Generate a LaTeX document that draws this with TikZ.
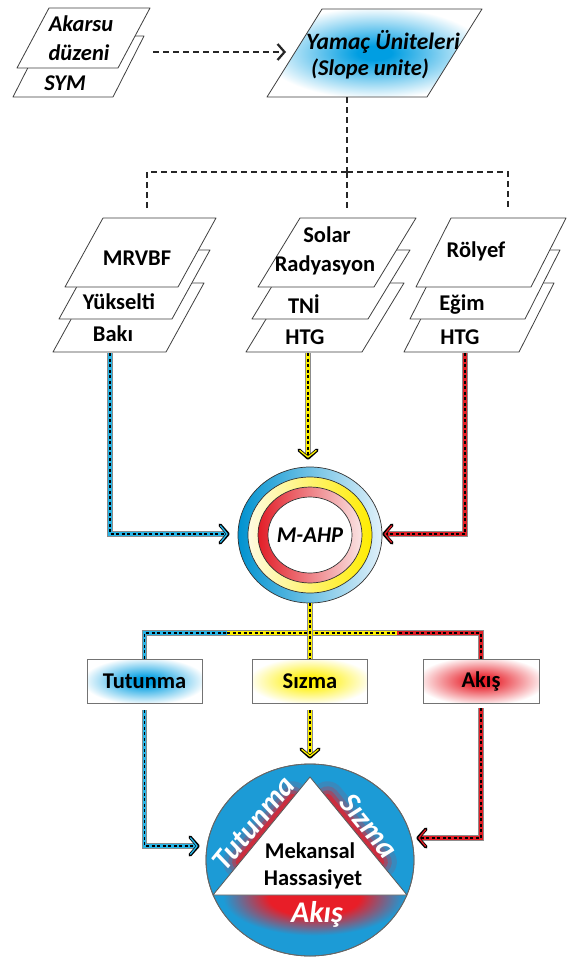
\documentclass[tikz,border=0pt]{standalone}
\usepackage{fontspec}
\setmainfont{Carlito}
\usetikzlibrary{arrows.meta,calc}
\definecolor{cBlue}{RGB}{28,155,214}
\definecolor{lnBlue}{RGB}{40,182,232}
\definecolor{lnYel}{RGB}{255,242,0}
\definecolor{lnRed}{RGB}{228,30,38}
\definecolor{gBlue}{RGB}{0,158,226}
\definecolor{gYel}{RGB}{255,240,0}
\definecolor{gRed}{RGB}{232,30,40}
\definecolor{ringBa}{RGB}{0,146,208}
\definecolor{ringBb}{RGB}{225,241,250}
\definecolor{ringYa}{RGB}{255,251,225}
\definecolor{ringYb}{RGB}{255,236,0}
\definecolor{ringRa}{RGB}{226,30,40}
\definecolor{ringRb}{RGB}{250,228,228}
\pgfdeclareradialshading{glowYam}{\pgfpoint{0bp}{0bp}}{color(0bp)=(gBlue); color(4bp)=(gBlue); color(26bp)=(white); color(50bp)=(white)}
\pgfdeclareradialshading{glowB}{\pgfpoint{0bp}{0bp}}{color(0bp)=(gBlue); color(4bp)=(gBlue); color(27bp)=(white); color(50bp)=(white)}
\pgfdeclareradialshading{glowY}{\pgfpoint{0bp}{0bp}}{color(0bp)=(gYel); color(4bp)=(gYel); color(27bp)=(white); color(50bp)=(white)}
\pgfdeclareradialshading{glowR}{\pgfpoint{0bp}{0bp}}{color(0bp)=(gRed); color(4bp)=(gRed); color(28bp)=(white); color(50bp)=(white)}
\pgfdeclareradialshading{glowRB}{\pgfpoint{0bp}{0bp}}{color(0bp)=(gRed); color(12bp)=(gRed); color(24bp)=(cBlue); color(50bp)=(cBlue)}
\newcommand{\pgram}[5]{\draw[pg] (#1,#2) -- ++(#3,0) -- ++(#4,-#5) -- ++(-#3,0) -- cycle;}
\newcommand{\cconn}[2]{\draw[cbord] #2; \draw[line width=3.8pt,#1] #2; \draw[cdash] #2;}
\begin{document}
\begin{tikzpicture}[x=1pt,y=-1pt,
  pg/.style={fill=white, draw=black!75, line width=0.8pt, line join=round},
  lbl/.style={font=\fontsize{22.5}{27}\selectfont\bfseries, inner sep=0pt, text height=14pt, text depth=0pt},
  ilbl/.style={lbl, font=\fontsize{22.5}{27}\selectfont\bfseries\itshape},
  wlbl/.style={inner sep=0pt, text height=19pt, text depth=0pt, text=white, font=\fontsize{30}{36}\selectfont\bfseries\itshape},
  box/.style={draw=black!55, line width=0.9pt, minimum width=115pt, minimum height=44pt, inner sep=0pt, font=\fontsize{22.5}{27}\selectfont\bfseries, shade},
  dashB/.style={line width=2pt, black!85, dash pattern=on 6pt off 4pt},
  cbord/.style={line width=5.4pt, black!45},
  cdash/.style={line width=1.7pt, black, dash pattern=on 3pt off 2.5pt},
  pics/chev/.style={code={
    \draw[black, line width=3.4pt, line cap=round, line join=round] (-8pt,-9pt) -- (0pt,0pt) -- (-8pt,9pt);
    \draw[#1, line width=1.3pt, line cap=round, line join=round] (-7.5pt,-8.2pt) -- (-0.8pt,0pt) -- (-7.5pt,8.2pt);
  }}
]
\useasboundingbox (0,0) rectangle (569,958);
\fill[white] (0,0) rectangle (569,958);

% ---- Akarsu / SYM stack
\pgram{13}{97}{100}{31}{61}
\pgram{17}{68}{101}{32}{60}
\node[ilbl] (akarsu) at (81,25) {Akarsu};
\node[ilbl] (duzeni) at (79,53) {düzeni};
\node[ilbl] (sym) at (65,83) {SYM};

% ---- Yamac
\shadedraw[shading=glowYam, draw=black!75, line width=0.8pt, line join=round] (267,97) -- ++(160,0) -- ++(55,-88) -- ++(-160,0) -- cycle;
\node[ilbl, font=\fontsize{23.5}{28}\selectfont\bfseries\itshape] (yamac) at (383,42) {Yamaç Üniteleri};
\node[ilbl] (slope) at (370,68) {(Slope unite)};

\coordinate (akOut) at (153,52);
\coordinate (yaIn) at (286,52);
\draw[dashB, -{Straight Barb[length=7pt,width=16pt,line width=2.2pt]}] (akOut) -- (yaIn);

\coordinate (yaOut) at (347,97);
\coordinate (tm) at (347,172);
\coordinate (dl) at (147,208);
\coordinate (dm) at (347,208);
\coordinate (dr) at (508,208);
\draw[dashB] (yaOut) -- (tm);
\draw[dashB] (dl) |- (tm);
\draw[dashB] (tm) -| (dr);
\draw[dashB] (tm) -- (dm);

% ---- stacks
\pgram{53}{352}{113}{38}{69}
\pgram{59}{319}{113}{38}{69}
\pgram{65}{287}{113}{38}{69}
\node[lbl] (mrvbf) at (137,258) {MRVBF};
\node[lbl] (yuk) at (119,302) {Yükselti};
\node[lbl] (baki) at (113,334) {Bakı};

\pgram{246}{352}{116}{42}{69}
\pgram{252}{319}{116}{42}{69}
\pgram{258}{287}{116}{42}{69}
\node[lbl] (solar) at (327,235) {Solar};
\node[lbl] (rad) at (325,264) {Radyasyon};
\node[lbl] (tni) at (304,306) {TNİ};
\node[lbl] (htga) at (305,337) {HTG};

\pgram{404}{352}{115}{35}{69}
\pgram{410}{319}{115}{35}{69}
\pgram{416}{287}{115}{35}{69}
\node[lbl] (rolyef) at (476,250) {Rölyef};
\node[lbl] (egim) at (462,303) {Eğim};
\node[lbl] (htgb) at (460,337) {HTG};

% ---- M-AHP
\coordinate (mc) at (310,535);
\shadedraw[draw=black!80, line width=0.7pt, left color=ringBa, right color=ringBb] (mc) ellipse (72 and 68);
\shadedraw[draw=black!80, line width=0.7pt, left color=ringYa, right color=ringYb] (mc) ellipse (62 and 58);
\shadedraw[draw=black!80, line width=0.7pt, left color=ringRa, right color=ringRb] (mc) ellipse (52 and 48);
\filldraw[fill=white, draw=black!80, line width=0.7pt] (mc) ellipse (42 and 38);
\node[ilbl] (mahp) at (mc) {M-AHP};

\coordinate (bakOut) at (110,353);
\coordinate (htgaOut) at (308,353);
\coordinate (htgbOut) at (465,353);
\coordinate (mahpL) at (228,534);
\coordinate (mahpR) at (384,534);
\coordinate (mahpT) at (308,458);
\coordinate (mahpB) at (310,603);
\cconn{lnBlue}{(bakOut) |- (mahpL)}
\cconn{lnYel}{(htgaOut) -- (mahpT)}
\cconn{lnRed}{(htgbOut) |- (mahpR)}
\pic at (mahpL) {chev=lnBlue};
\pic[rotate=-90] at (mahpT) {chev=lnYel};
\pic[rotate=180] at (mahpR) {chev=lnRed};

% ---- boxes
\node[box, shading=glowB] (tutunma) at (144.5,681) {Tutunma};
\node[box, shading=glowY] (sizma) at (310,681) {Sızma};
\node[box, shading=glowR, minimum width=116pt] (akis) at (481,681) {Akış};

\coordinate (jbl) at (227,633);
\coordinate (jbr) at (397,633);
\cconn{lnBlue}{(tutunma.north) |- (jbl)}
\cconn{lnRed}{(akis.north) |- (jbr)}
\cconn{lnYel}{(jbl) -- (jbr)}
\cconn{lnYel}{(mahpB) -- (sizma.north)}

% ---- lower connectors
\coordinate (tOut) at ([yshift=-7pt]tutunma.south);
\coordinate (sOut) at ([yshift=-7pt]sizma.south);
\coordinate (aOut) at ([yshift=-5pt]akis.south);
\coordinate (cirL) at (198,846);
\coordinate (cirT) at (310,757);
\coordinate (cirR) at (418,838);
\cconn{lnBlue}{(tOut) |- (cirL)}
\cconn{lnYel}{(sOut) -- (cirT)}
\cconn{lnRed}{(aOut) |- (cirR)}
\pic at (cirL) {chev=lnBlue};
\pic[rotate=-90] at (cirT) {chev=lnYel};
\pic[rotate=180] at (cirR) {chev=lnRed};

% ---- big circle
\coordinate (cc) at (310,860);
\coordinate (ta) at (310,777);
\coordinate (tbl) at (213,895);
\coordinate (tbr) at (407,895);
\filldraw[fill=cBlue, draw=black!60, line width=0.8pt] (cc) ellipse (104 and 96);
\begin{scope}
  \clip (cc) ellipse (103.5 and 95.5);
  \shade[shading=glowRB] (219,857) rectangle (409,937);
  \foreach \w/\o in {34/0.14, 24/0.24, 16/0.4, 9/0.65} {
    \draw[gRed, line width=\w pt, opacity=\o, line cap=round] ($(tbl)!0.28!(ta)$) -- ($(tbl)!0.82!(ta)$);
    \draw[gRed, line width=\w pt, opacity=\o, line cap=round] ($(tbr)!0.28!(ta)$) -- ($(tbr)!0.82!(ta)$);
  }
\end{scope}
\filldraw[fill=white, draw=black!65, line width=0.8pt, line join=round] (tbl) -- (ta) -- (tbr) -- cycle;
\draw[black!60, line width=0.8pt] (cc) ellipse (104 and 96);
\node[wlbl, rotate=50.6] (tutc) at (254,823) {Tutunma};
\node[wlbl, rotate=-50.6] (sizc) at (369,826) {Sızma};
\node[wlbl] (akisc) at (317,913) {Akış};
\node[lbl] (mek) at (310,851) {Mekansal};
\node[lbl] (has) at (313,878) {Hassasiyet};
\end{tikzpicture}
\end{document}
